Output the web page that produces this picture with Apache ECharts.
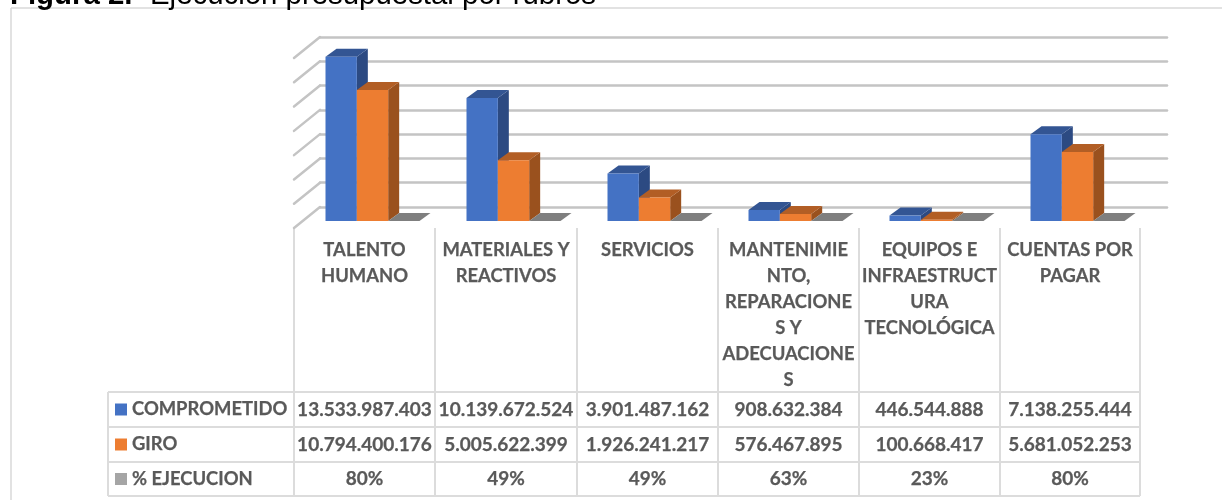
<!DOCTYPE html>
<html>
<head>
<meta charset="utf-8">
<style>
  html, body { margin: 0; padding: 0; background: #fff; }
  #chart { width: 1222px; height: 500px; }
</style>
<script src="https://cdn.jsdelivr.net/npm/echarts@6/dist/echarts.min.js"></script>
</head>
<body>
<div id="chart"></div>
<script>
const categories = ['TALENTO\nHUMANO', 'MATERIALES Y\nREACTIVOS', 'SERVICIOS', 'MANTENIMIE\nNTO,\nREPARACIONE\nS Y\nADECUACIONE\nS', 'EQUIPOS E\nINFRAESTRUCT\nURA\nTECNOLÓGICA', 'CUENTAS POR\nPAGAR']
const comprometido = [13533987403, 10139672524, 3901487162, 908632384, 446544888, 7138255444]
const giro = [10794400176, 5005622399, 1926241217, 576467895, 100668417, 5681052253]
const ejecucion = [0.80, 0.49, 0.49, 0.63, 0.23, 0.80]
const axisTicks = [0, 2e9, 4e9, 6e9, 8e9, 10e9, 12e9, 14e9]

const font = 'Lato'
const textColor = '#595959'
const borderColor = '#dcdcdc'

// Excel style 3D look: front face plus top and side faces
function barRenderer(slot, colors) {
  return function (params, api) {
    const idx = api.value(0)
    const base = api.coord([idx, 0])
    const top = api.coord([idx, api.value(1)])
    const w = api.size([1, 0])[0] / 4.5
    const x = base[0] + (slot - 1.5) * w
    const dx = 11, dy = 8
    return {
      type: 'group',
      children: [
        { type: 'polygon', shape: { points: [[x + w, top[1]], [x + w + dx, top[1] - dy], [x + w + dx, base[1] - dy], [x + w, base[1]]] }, style: { fill: colors[2] } },
        { type: 'polygon', shape: { points: [[x, top[1]], [x + dx, top[1] - dy], [x + w + dx, top[1] - dy], [x + w, top[1]]] }, style: { fill: colors[1] } },
        { type: 'rect', shape: { x: x, y: top[1], width: w, height: base[1] - top[1] }, style: { fill: colors[0] } }
      ]
    }
  }
}

function barSeries(name, values, slot, colors) {
  return {
    name: name,
    type: 'custom',
    xAxisIndex: 1,
    yAxisIndex: 1,
    z: 3,
    renderItem: barRenderer(slot, colors),
    encode: { x: 0, y: 1 },
    data: values.map((v, i) => [i, v])
  }
}

// left wall diagonals, from the back wall to the front of the floor
function wallRenderer(params, api) {
  const p = api.coord([0, api.value(0)])
  const x = params.coordSys.x
  return {
    type: 'line',
    shape: { x1: x, y1: p[1], x2: x - 26, y2: p[1] + 21 },
    style: { stroke: '#c4c4c4', lineWidth: 2.5, lineCap: 'round' }
  }
}

function money(v) {
  return String(v).replace(/\B(?=(\d{3})+$)/g, '.')
}

const colX = [294, 435, 577, 718, 859, 1000, 1140]
const rowY = [392, 427, 462, 496]
const tableRows = [
  { name: 'COMPROMETIDO', color: '#4472c4', cells: comprometido.map(money) },
  { name: 'GIRO', color: '#ed7d31', cells: giro.map(money) },
  { name: '% EJECUCION', color: '#a5a5a5', cells: ejecucion.map(v => Math.round(v * 100) + '%') }
]

function line(x1, y1, x2, y2, stroke, width) {
  return { type: 'line', silent: true, shape: { x1, y1, x2, y2 }, style: { stroke: stroke || borderColor, lineWidth: width || 2 } }
}

function cellText(x, y, text, align, fontSize) {
  return {
    type: 'text', silent: true, x: x, y: y,
    style: {
      text: text, fill: textColor, stroke: textColor, lineWidth: 0.25,
      fontFamily: font, fontWeight: 'bold', fontSize: fontSize,
      align: align, verticalAlign: 'middle'
    }
  }
}

function captionText(x, text, weight) {
  return {
    type: 'text', silent: true, x: x, y: 10,
    style: { text: text, fill: '#000', fontFamily: 'Liberation Sans', fontWeight: weight, fontSize: 29.4, align: 'left', verticalAlign: 'bottom' }
  }
}

const graphics = []
// outer chart frame
graphics.push(line(11, 8, 1222, 8, '#d9d9d9', 1.5))
graphics.push(line(11, 8, 11, 500, '#d9d9d9', 1.5))
// figure caption, cut off by the top of the page
graphics.push(captionText(10, 'Figura 2.', 'bold'))
graphics.push(captionText(150, 'Ejecución presupuestal por rubros', 'normal'))
// table grid
colX.forEach(x => graphics.push(line(x, 228, x, rowY[3])))
graphics.push(line(108, rowY[0], 108, rowY[3]))
rowY.forEach(y => graphics.push(line(108, y, 1140, y)))
categories.forEach((c, i) => {
  graphics.push({
    type: 'text', silent: true, x: (colX[i] + colX[i + 1]) / 2, y: 237,
    style: {
      text: c, fill: textColor, stroke: textColor, lineWidth: 0.25,
      fontFamily: font, fontWeight: 'bold', fontSize: 18.4,
      align: 'center', verticalAlign: 'top', lineHeight: 26
    }
  })
})
tableRows.forEach((row, r) => {
  const cy = (rowY[r] + rowY[r + 1]) / 2
  graphics.push({ type: 'rect', silent: true, shape: { x: 115, y: cy - 6, width: 12, height: 12 }, style: { fill: row.color } })
  graphics.push(cellText(132, cy, row.name, 'left', 18.4))
  row.cells.forEach((t, i) => graphics.push(cellText((colX[i] + colX[i + 1]) / 2, cy, t, 'center', 19)))
})

const chart = echarts.init(document.getElementById('chart'))
chart.setOption({
  animation: false,
  backgroundColor: '#fff',
  grid: [
    { left: 320, top: 37, width: 847, height: 170 },
    { left: 302, top: 51, width: 846, height: 170 }
  ],
  xAxis: [
    { gridIndex: 0, type: 'category', data: categories, axisLine: { show: false }, axisTick: { show: false }, axisLabel: { show: false } },
    { gridIndex: 1, type: 'category', data: categories, axisLine: { show: false }, axisTick: { show: false }, axisLabel: { show: false } }
  ],
  yAxis: [
    {
      gridIndex: 0, type: 'value', min: 0, max: 14e9, interval: 2e9,
      axisLine: { show: false }, axisTick: { show: false }, axisLabel: { show: false },
      splitLine: { show: true, lineStyle: { color: '#c4c4c4', width: 2.5, cap: 'round' } }
    },
    {
      gridIndex: 1, type: 'value', min: 0, max: 14e9, interval: 2e9,
      axisLine: { show: false }, axisTick: { show: false }, axisLabel: { show: false }, splitLine: { show: false }
    }
  ],
  series: [
    { type: 'custom', xAxisIndex: 0, yAxisIndex: 0, z: 1, renderItem: wallRenderer, encode: { y: 0 }, data: axisTicks.map(v => [v]) },
    barSeries('COMPROMETIDO', comprometido, 0, ['#4472c4', '#335593', '#2c4a82']),
    barSeries('GIRO', giro, 1, ['#ed7d31', '#b25e25', '#9a511e']),
    barSeries('% EJECUCION', ejecucion, 2, ['#a5a5a5', '#7f7f7f', '#6e6e6e'])
  ],
  graphic: graphics
})
</script>
</body>
</html>
